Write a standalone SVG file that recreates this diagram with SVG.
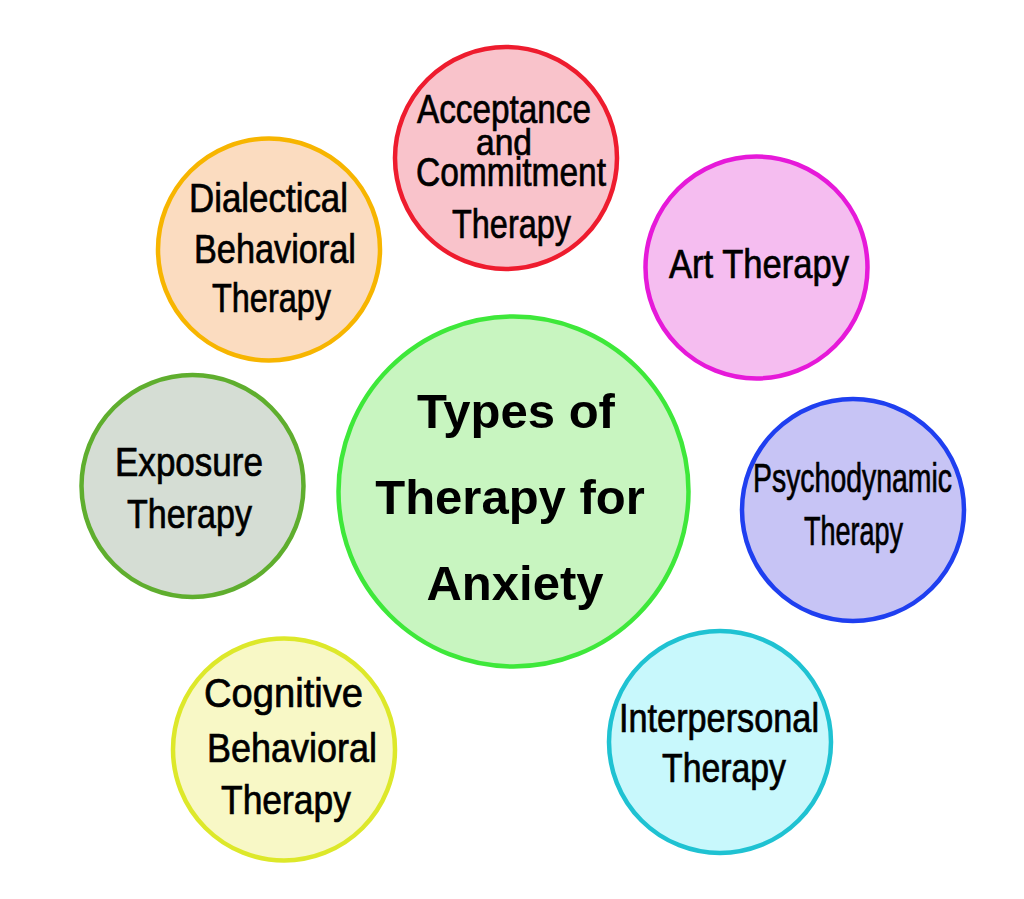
<svg xmlns="http://www.w3.org/2000/svg" width="1024" height="899" viewBox="0 0 1024 899">
<style>
  .c { stroke-width: 4.5; }
  .t { font-family: "Liberation Sans", Arial, sans-serif; font-size: 40px; fill: #000; stroke: #000; stroke-width: 0.7; text-anchor: middle; }
  .s { font-size: 36px; }
  .h { font-family: "Liberation Sans", Arial, sans-serif; font-size: 49px; font-weight: bold; fill: #000; text-anchor: middle; }
</style>
<rect width="1024" height="899" fill="#ffffff"/>
<g id="connectors"></g>
<g id="center">
  <circle class="c" cx="513.5" cy="491.5" r="175" fill="#c8f5c0" stroke="#3ee83a"/>
  <text class="h" x="516" y="428">Types of</text>
  <text class="h" x="510" y="514">Therapy for</text>
  <text class="h" x="515" y="600">Anxiety</text>
</g>
<g id="act">
  <circle class="c" cx="506" cy="158" r="111" fill="#f9c3cb" stroke="#ee1c2e"/>
  <text class="t" x="504" y="123" textLength="174" lengthAdjust="spacingAndGlyphs">Acceptance</text>
  <text class="t s" x="504" y="155" textLength="56" lengthAdjust="spacingAndGlyphs">and</text>
  <text class="t" x="511" y="186" textLength="190" lengthAdjust="spacingAndGlyphs">Commitment</text>
  <text class="t" x="511.5" y="238" textLength="119" lengthAdjust="spacingAndGlyphs">Therapy</text>
</g>
<g id="dbt">
  <circle class="c" cx="269" cy="249.5" r="111" fill="#fbdcc0" stroke="#f7b500"/>
  <text class="t" x="268.5" y="212" textLength="159" lengthAdjust="spacingAndGlyphs">Dialectical</text>
  <text class="t" x="275" y="263" textLength="162" lengthAdjust="spacingAndGlyphs">Behavioral</text>
  <text class="t" x="271.5" y="312" textLength="119" lengthAdjust="spacingAndGlyphs">Therapy</text>
</g>
<g id="art">
  <circle class="c" cx="756.5" cy="267.5" r="111" fill="#f5bdf0" stroke="#e619d9"/>
  <text class="t" x="759" y="278" textLength="180" lengthAdjust="spacingAndGlyphs">Art Therapy</text>
</g>
<g id="exposure">
  <circle class="c" cx="192.5" cy="486" r="111" fill="#d5ddd4" stroke="#5fae2e"/>
  <text class="t" x="189" y="476" textLength="148" lengthAdjust="spacingAndGlyphs">Exposure</text>
  <text class="t" x="189.5" y="528" textLength="125" lengthAdjust="spacingAndGlyphs">Therapy</text>
</g>
<g id="psychodynamic">
  <circle class="c" cx="853" cy="510" r="111" fill="#c7c4f5" stroke="#1f3ff0"/>
  <text class="t" x="852.5" y="492" textLength="199" lengthAdjust="spacingAndGlyphs">Psychodynamic</text>
  <text class="t" x="853.5" y="545" textLength="99" lengthAdjust="spacingAndGlyphs">Therapy</text>
</g>
<g id="cbt">
  <circle class="c" cx="284" cy="749.5" r="111" fill="#f8f8c6" stroke="#dde82a"/>
  <text class="t" x="283.5" y="707" textLength="159" lengthAdjust="spacingAndGlyphs">Cognitive</text>
  <text class="t" x="292" y="762" textLength="170" lengthAdjust="spacingAndGlyphs">Behavioral</text>
  <text class="t" x="286" y="814" textLength="130" lengthAdjust="spacingAndGlyphs">Therapy</text>
</g>
<g id="interpersonal">
  <circle class="c" cx="720" cy="742" r="111" fill="#c8f8fc" stroke="#1fc2d2"/>
  <text class="t" x="719" y="732" textLength="200" lengthAdjust="spacingAndGlyphs">Interpersonal</text>
  <text class="t" x="724" y="782" textLength="124" lengthAdjust="spacingAndGlyphs">Therapy</text>
</g>
</svg>
